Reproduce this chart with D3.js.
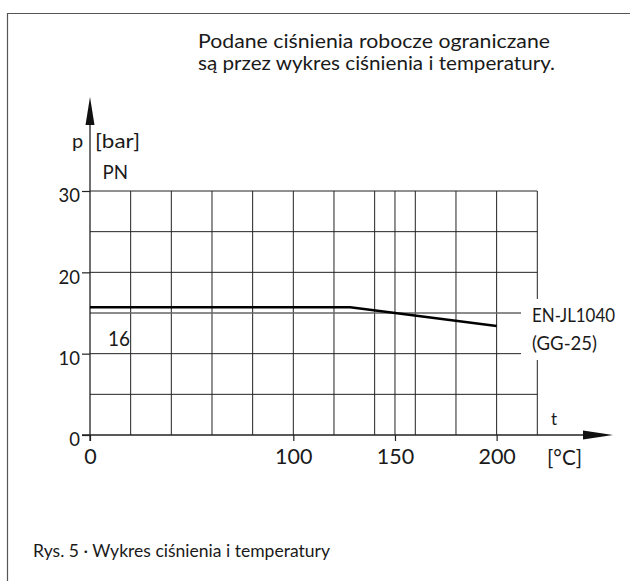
<!DOCTYPE html>
<html>
<head>
<meta charset="utf-8">
<script src="https://cdn.jsdelivr.net/npm/d3@7"></script>
<style>
  body { margin: 0; background: #fff; }
  text { font-family: "Lato", "Noto Sans", sans-serif; fill: #1a1a1a; }
</style>
</head>
<body>
<div id="chart"></div>
<script>
// chart values
var curveTemp = [0, 128, 200];          // °C
var curvePressure = [15.7, 15.7, 13.4]; // bar
var gridTemps = [20, 40, 60, 80, 100, 120, 140, 150, 160, 180, 200, 220];
var gridPressures = [5, 10, 15, 20, 25, 30];
var tempTicks = [0, 100, 150, 200];
var pressureTicks = [0, 10, 20, 30];
var titleLines = ["Podane ciśnienia robocze ograniczane", "są przez wykres ciśnienia i temperatury."];
var caption = "Rys. 5  ·  Wykres ciśnienia i temperatury";

var svgWidth = 630;
var svgHeight = 581;

var svg = d3.select("#chart")
  .append("svg")
  .attr("width", svgWidth)
  .attr("height", svgHeight);

// frame
svg.append("path")
  .attr("d", "M7.5,581 V13.5 H630")
  .attr("fill", "none")
  .attr("stroke", "#555")
  .attr("stroke-width", 1.2);

var x = d3.scaleLinear().domain([0, 220]).range([90, 537.3]);
var y = d3.scaleLinear().domain([0, 30]).range([435, 191]);

// grid
var grid = svg.append("g").attr("stroke", "#222").attr("stroke-width", 1);
grid.selectAll(".vg")
  .data(gridTemps)
  .enter()
  .append("line")
  .attr("x1", d => x(d)).attr("x2", d => x(d))
  .attr("y1", y(0)).attr("y2", y(30));
grid.selectAll(".hg")
  .data(gridPressures)
  .enter()
  .append("line")
  .attr("x1", x(0)).attr("x2", x(220))
  .attr("y1", d => y(d)).attr("y2", d => y(d))
  .attr("stroke", d => d === 15 ? "#666" : "#222")
  .attr("stroke-width", d => d === 15 ? 1.3 : 1);

// white box behind the material label
svg.append("rect")
  .attr("x", 521).attr("y", 299)
  .attr("width", 109).attr("height", 61)
  .attr("fill", "#fff");

// axes lines with arrows
svg.append("line")
  .attr("x1", 82).attr("x2", 590)
  .attr("y1", y(0)).attr("y2", y(0))
  .attr("stroke", "#222").attr("stroke-width", 1.3);
svg.append("path")
  .attr("d", `M583,${y(0) - 4.5} L613,${y(0)} L583,${y(0) + 4.5} Z`)
  .attr("fill", "#111");
svg.append("line")
  .attr("x1", x(0)).attr("x2", x(0))
  .attr("y1", 441).attr("y2", 120)
  .attr("stroke", "#222").attr("stroke-width", 1.3);
svg.append("path")
  .attr("d", `M${x(0) - 4.5},125 L${x(0)},97 L${x(0) + 4.5},125 Z`)
  .attr("fill", "#111");

// y ticks
var leftAxis = d3.axisLeft(y).tickValues(pressureTicks).tickSize(8).tickPadding(2);
var gy = svg.append("g")
  .attr("transform", `translate(${x(0)},0)`)
  .call(leftAxis);
gy.select(".domain").remove();
gy.selectAll(".tick line").attr("stroke", "#222").attr("stroke-width", 1.2);
gy.selectAll(".tick text")
  .attr("font-size", 18.5)
  .attr("dy", "0.58em")
  .attr("fill", "#1a1a1a")
  .style("font-family", "Lato, sans-serif");

// x ticks
var bottomAxis = d3.axisBottom(x).tickValues(tempTicks).tickSize(6).tickPadding(8);
var gx = svg.append("g")
  .attr("transform", `translate(0,${y(0)})`)
  .call(bottomAxis);
gx.select(".domain").remove();
gx.selectAll(".tick line").attr("stroke", "#222").attr("stroke-width", 1.2);
gx.selectAll(".tick text")
  .attr("font-size", 21.5)
  .attr("fill", "#1a1a1a")
  .style("font-family", "Lato, sans-serif");

// pressure curve
var line = d3.line()
  .x(d => x(d[0]))
  .y(d => y(d[1]));
svg.append("path")
  .datum(d3.zip(curveTemp, curvePressure))
  .attr("d", line)
  .attr("fill", "none")
  .attr("stroke", "#000")
  .attr("stroke-width", 2.4);

// labels
function label(t, px, py, size, len) {
  var el = svg.append("text").attr("x", px).attr("y", py).attr("font-size", size).text(t);
  if (len) el.attr("textLength", len).attr("lengthAdjust", "spacingAndGlyphs");
  return el;
}
label("p", 72, 147.5, 20);
label("[bar]", 95, 147.5, 20, 45);
label("PN", 102.5, 178.5, 19.5, 25.5);
label("16", 108, 345.5, 22, 22);
label("EN-JL1040", 532, 322, 19.5, 83);
label("(GG-25)", 532, 350, 19.5, 65);
label("t", 551, 425, 17);
label("[°C]", 547, 465, 21, 35);

svg.selectAll(".title")
  .data(titleLines)
  .enter()
  .append("text")
  .attr("x", 198)
  .attr("y", (d, i) => 48 + i * 21.5)
  .attr("font-size", 19.5)
  .attr("textLength", (d, i) => i === 0 ? 352 : 357)
  .attr("lengthAdjust", "spacingAndGlyphs")
  .text(d => d);

label(caption, 33, 556.5, 17.5, 297);
</script>
</body>
</html>
